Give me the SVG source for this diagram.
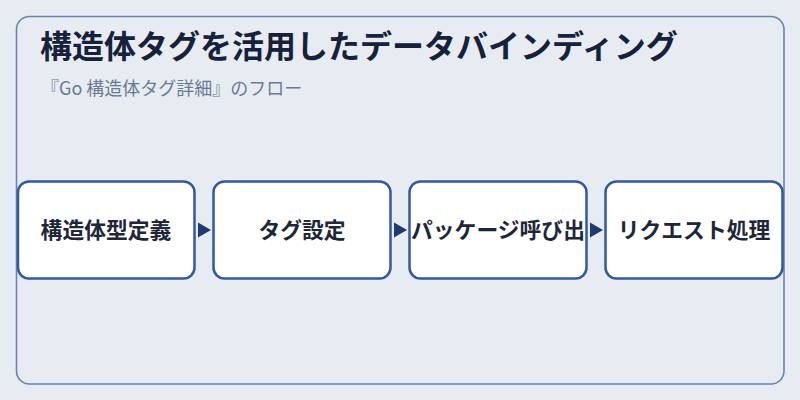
<svg xmlns="http://www.w3.org/2000/svg" width="800" height="400" viewBox="0 0 800 400">
<style>
.title{font-family:"Noto Sans CJK JP","Noto Sans",sans-serif;font-weight:700;font-size:32px;fill:#17223a}
.sub{font-family:"Noto Sans CJK JP","Noto Sans",sans-serif;font-size:18px;fill:#6b7a92}
.box{fill:#ffffff;stroke:#3358a0;stroke-width:2.5}
.lbl{font-family:"Noto Sans CJK JP","Noto Sans",sans-serif;font-weight:700;font-size:21.8px;fill:#1e2638;text-anchor:middle}
.arr{fill:#1f3a6e}
</style>
<rect width="800" height="400" fill="#e7ecf2"/>
<rect x="16.5" y="16.5" width="767.5" height="367.5" rx="13" fill="#e7ecf2" stroke="#6a84b0" stroke-width="1.6"/>
<text class="title" x="40" y="58">構造体タグを活用したデータバインディング</text>
<text class="sub" x="41" y="95">『Go 構造体タグ詳細』のフロー</text>
<g id="connectors">
<polygon class="arr" points="198,222.5 211,230 198,237.5"/>
<polygon class="arr" points="394,222.5 407,230 394,237.5"/>
<polygon class="arr" points="590,222.5 603,230 590,237.5"/>
</g>
<g id="node1"><rect class="box" x="18" y="181.5" width="176.5" height="97" rx="11"/><text class="lbl" x="106" y="238">構造体型定義</text></g>
<g id="node2"><rect class="box" x="213.5" y="181.5" width="177" height="97" rx="11"/><text class="lbl" x="302" y="238">タグ設定</text></g>
<g id="node3"><rect class="box" x="409.5" y="181.5" width="177" height="97" rx="11"/><text class="lbl" x="498" y="238">パッケージ呼び出</text></g>
<g id="node4"><rect class="box" x="605.5" y="181.5" width="177" height="97" rx="11"/><text class="lbl" x="694" y="238">リクエスト処理</text></g>
</svg>
